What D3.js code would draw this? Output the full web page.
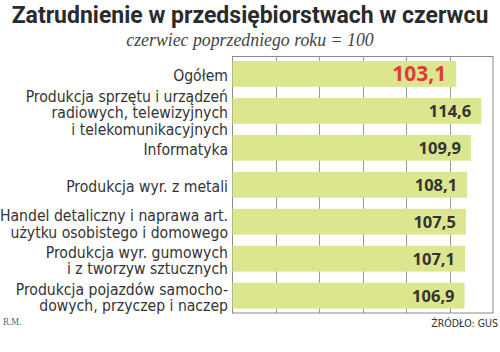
<!DOCTYPE html>
<html>
<head>
<meta charset="utf-8">
<script src="https://cdn.jsdelivr.net/npm/d3@7"></script>
<style>
  body { margin: 0; background: #fff; }
  svg { display: block; }
</style>
</head>
<body>
<svg width="500" height="352"></svg>
<script>
var width = 500, height = 352;

// dane
var categories = [
  ["Ogółem"],
  ["Produkcja sprzętu i urządzeń", "radiowych, telewizyjnych", "i telekomunikacyjnych"],
  ["Informatyka"],
  ["Produkcja wyr. z metali"],
  ["Handel detaliczny i naprawa art.", "użytku osobistego i domowego"],
  ["Produkcja wyr. gumowych", "i z tworzyw sztucznych"],
  ["Produkcja pojazdów samocho-", "dowych, przyczep i naczep"]
];
var values = [103.1, 114.6, 109.9, 108.1, 107.5, 107.1, 106.9];
var gridTicks = [20, 40, 60, 80, 100];

var plot = { left: 232.5, right: 493, top: 56.5, bottom: 313 };

var svg = d3.select("svg");

var x = d3.scaleLinear()
    .domain([0, 120])
    .range([plot.left, plot.right]);

var y = d3.scaleBand()
    .domain(d3.range(values.length))
    .range([plot.top, plot.bottom])
    .paddingInner(0.3)
    .paddingOuter(0.12);

// tytul
svg.append("text")
    .attr("x", 250)
    .attr("y", 23)
    .attr("text-anchor", "middle")
    .style("font-family", "Roboto")
    .style("font-weight", "700")
    .style("font-size", "23px")
    .style("fill", "#2b2b2b")
    .text("Zatrudnienie w przedsiębiorstwach w czerwcu");

svg.append("text")
    .attr("x", 250)
    .attr("y", 46)
    .attr("text-anchor", "middle")
    .style("font-family", "Liberation Serif")
    .style("font-style", "italic")
    .style("font-size", "17.8px")
    .style("fill", "#444")
    .text("czerwiec poprzedniego roku = 100");

// linie siatki
svg.append("g")
    .selectAll("line")
    .data(gridTicks)
    .enter()
    .append("line")
    .attr("x1", d => Math.round(x(d)) + 0.5)
    .attr("x2", d => Math.round(x(d)) + 0.5)
    .attr("y1", plot.top)
    .attr("y2", plot.bottom)
    .attr("stroke", "#9a9a9a")
    .attr("stroke-width", 1);

// ramka
svg.append("rect")
    .attr("x", plot.left)
    .attr("y", plot.top)
    .attr("width", plot.right - plot.left)
    .attr("height", plot.bottom - plot.top)
    .attr("fill", "none")
    .attr("stroke", "#8a8a8a")
    .attr("stroke-width", 1);

// slupki
svg.append("g")
    .selectAll("rect")
    .data(values)
    .enter()
    .append("rect")
    .attr("x", x(0))
    .attr("y", (d, i) => y(i))
    .attr("width", d => x(d) - x(0))
    .attr("height", y.bandwidth())
    .attr("fill", "#dbe68f");

// wartosci
svg.append("g")
    .selectAll("text")
    .data(values)
    .enter()
    .append("text")
    .attr("x", d => x(d) - 10)
    .attr("y", (d, i) => y(i) + y.bandwidth() / 2 + (i === 0 ? 7.5 : 6))
    .attr("text-anchor", "end")
    .style("font-family", "Open Sans")
    .style("font-weight", "700")
    .style("font-size", (d, i) => i === 0 ? "21px" : "16.5px")
    .style("fill", (d, i) => i === 0 ? "#e03b3b" : "#333")
    .text(d => d3.format(".1f")(d).replace(".", ","));

// etykiety kategorii
var lineH = 16.6;
var labels = svg.append("g")
    .selectAll("text")
    .data(categories)
    .enter()
    .append("text")
    .attr("text-anchor", "end")
    .style("font-family", "DejaVu Sans Condensed")
    .style("font-size", "15.6px")
    .style("fill", "#333");

labels.each(function(lines, i) {
    var cy = y(i) + y.bandwidth() / 2 + 2;
    var first = cy - (lines.length - 1) * lineH / 2 + 5.5;
    d3.select(this).selectAll("tspan")
        .data(lines)
        .enter()
        .append("tspan")
        .attr("x", 228)
        .attr("y", (d, j) => first + j * lineH)
        .text(d => d);
});

// stopka
svg.append("text")
    .attr("x", 3)
    .attr("y", 325)
    .style("font-family", "DejaVu Serif Condensed")
    .style("font-size", "8.5px")
    .style("fill", "#555")
    .text("R.M.");

svg.append("text")
    .attr("x", 498)
    .attr("y", 327)
    .attr("text-anchor", "end")
    .style("font-family", "DejaVu Sans Condensed")
    .style("font-size", "10.5px")
    .style("fill", "#333")
    .text("ŹRÓDŁO: GUS");
</script>
</body>
</html>
